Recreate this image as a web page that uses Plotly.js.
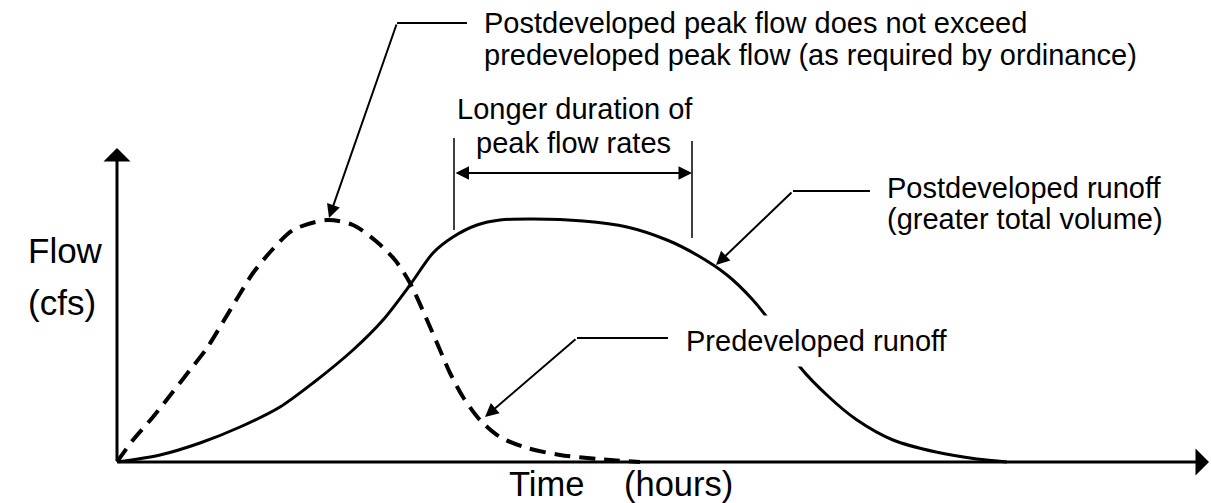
<!DOCTYPE html>
<html><head><meta charset="utf-8">
<script src="https://cdn.plot.ly/plotly-3.0.1.min.js"></script>
<style>html,body{margin:0;padding:0;background:#fff;}#chart{width:1211px;height:503px;}</style>
</head><body><div id="chart"></div>
<script>
// Postdeveloped runoff hydrograph (solid)
const timePost = [0,4.3,8.3,12.3,16.3,19.6,23.6,26.6,29.3,31.6,33.6,36.0,38.3,41.6,46.6,51.0,55.0,58.0,61.0,63.5,65.5,68.3,71.2,74.0,77.6,81.9,86.0,89.0];
const flowPost = [0,0.7,1.9,3.5,5.5,7.9,11.2,14.2,17.7,20.9,22.5,23.7,24.2,24.3,24.1,23.5,22.2,20.7,18.7,16.3,13.8,9.5,6.5,4.2,2.2,1.0,0.3,0];
// Predeveloped runoff hydrograph (dashed)
const timePre = [0,1.6,3.6,5.5,7.3,9.0,10.6,12.1,13.6,15.5,17.6,21.0,23.6,26.0,27.8,29.3,31.0,32.3,33.3,34.6,36.3,38.3,41.0,44.3,48.0,52.3];
const flowPre = [0,2.2,4.5,6.9,9.2,11.4,14.0,16.5,18.9,21.2,23.2,24.2,23.7,22.0,20.2,17.9,14.2,11.2,8.9,6.5,4.2,2.5,1.4,0.7,0.3,0];

const yTitleLines = ["Flow", "(cfs)"];
const xTitleParts = ["Time", "(hours)"];
const noteTop = ["Postdeveloped peak flow does not exceed", "predeveloped peak flow (as required by ordinance)"];
const noteDuration = ["Longer duration of", "peak flow rates"];
const notePost = ["Postdeveloped runoff", "(greater total volume)"];
const notePre = "Predeveloped runoff";

const FONT = "Liberation Sans, Arial, Helvetica, sans-serif";

function arrow(x, y, ax, ay, o) {
  return Object.assign({xref:'x', yref:'y', axref:'x', ayref:'y', x:x, y:y, ax:ax, ay:ay,
    text:'', showarrow:true, arrowhead:2, arrowsize:1.35, arrowwidth:2, arrowcolor:'#000', standoff:0, startstandoff:0}, o || {});
}
function label(text, x, y, xanchor, size, o) {
  return Object.assign({xref:'x', yref:'y', x:x, y:y, text:text, showarrow:false, xanchor:xanchor, yanchor:'middle',
    font:{family:FONT, size:size, color:'#000'}}, o || {});
}

const traces = [
  {x: timePost, y: flowPost, mode:'lines', line:{color:'#000', width:3, shape:'spline', smoothing:0.8}, hoverinfo:'skip'},
  {x: timePre, y: flowPre, mode:'lines', line:{color:'#000', width:4, dash:'16px,9px', shape:'spline', smoothing:0.8}, hoverinfo:'skip'}
];

const annotations = [
  // axes with arrowheads
  arrow(0, 31.4, 0, 0, {arrowhead:1, arrowwidth:3, arrowsize:1.5}),
  arrow(109.2, 0, 0, 0, {arrowhead:1, arrowwidth:3, arrowsize:1.5}),
  // leader arrows
  arrow(21.2, 24.4, 28.0, 43.9),
  arrow(36.8, 4.5, 46.0, 12.4),
  arrow(59.9, 19.7, 67.6, 27.1),
  // duration double arrow
  arrow(57.5, 28.9, 33.7, 28.9, {arrowside:'end+start', arrowwidth:2}),
  // texts
  label(noteTop[0], 36.5, 43.9, 'left', 29),
  label(noteTop[1], 36.5, 40.7, 'left', 29),
  label(noteDuration[0], 45.8, 35.3, 'center', 29),
  label(noteDuration[1], 45.6, 31.9, 'center', 29),
  label(notePost[0], 76.8, 27.4, 'left', 29),
  label(notePost[1], 76.8, 24.3, 'left', 29),
  label(notePre, 55.9, 12.1, 'left', 29, {bgcolor:'#fff', borderpad:9}),
  label(xTitleParts[0], 39.0, -2.15, 'left', 34.5),
  label(xTitleParts[1], 50.5, -2.15, 'left', 34.5),
  label(yTitleLines[0], -9.1, 21.2, 'left', 35),
  label(yTitleLines[1], -9.1, 16.0, 'left', 35)
];

const lineStyle = {color:'#000', width:2};
const shapes = [
  {type:'line', xref:'x', yref:'y', x0:28.0, y0:43.9, x1:35.0, y1:43.9, line:lineStyle},
  {type:'line', xref:'x', yref:'y', x0:46.0, y0:12.4, x1:55.1, y1:12.4, line:lineStyle},
  {type:'line', xref:'x', yref:'y', x0:67.6, y0:27.1, x1:75.3, y1:27.1, line:lineStyle},
  {type:'line', xref:'x', yref:'y', x0:33.7, y0:32.4, x1:33.7, y1:23.2, line:{color:'#000', width:1.5}},
  {type:'line', xref:'x', yref:'y', x0:57.5, y0:32.1, x1:57.5, y1:22.4, line:{color:'#000', width:1.5}}
];

const layout = {
  width:1211, height:503,
  margin:{l:0, r:0, t:0, b:0, pad:0},
  paper_bgcolor:'#fff', plot_bgcolor:'#fff',
  showlegend:false, hovermode:false,
  xaxis:{range:[-11.7, 109.4], visible:false, fixedrange:true},
  yaxis:{range:[-4.1, 46.2], visible:false, fixedrange:true},
  annotations: annotations,
  shapes: shapes,
  font:{family:FONT}
};

Plotly.newPlot('chart', traces, layout, {displayModeBar:false, staticPlot:true});
</script>
</body></html>
